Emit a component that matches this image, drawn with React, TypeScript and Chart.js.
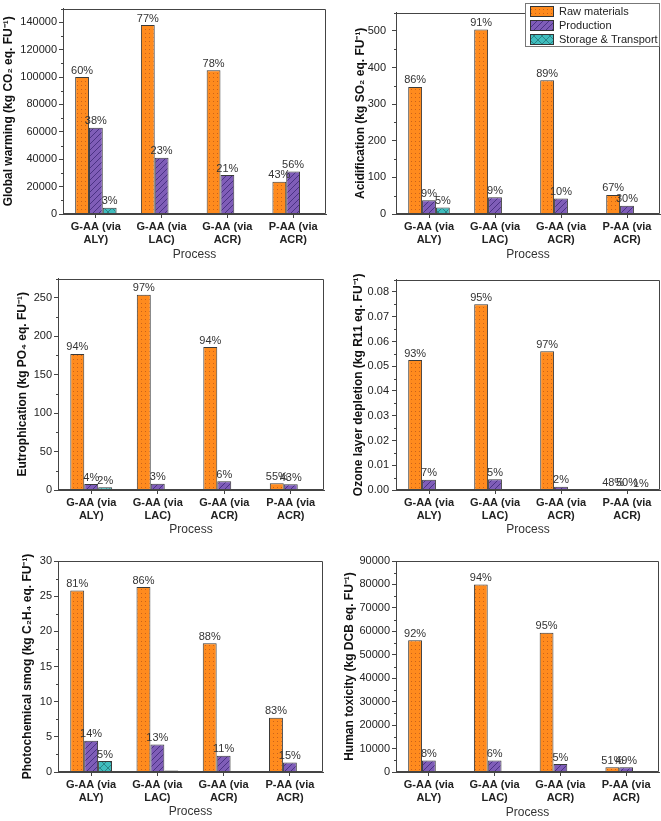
import React, { useEffect, useRef } from "react";
import { Chart, registerables } from "chart.js";
Chart.register(...registerables);

const FONT = "'Liberation Sans', Arial, Helvetica, sans-serif";

// ---------- data ----------
const categories = [["G-AA (via", "ALY)"], ["G-AA (via", "LAC)"], ["G-AA (via", "ACR)"], ["P-AA (via", "ACR)"]];
const seriesNames = ["Raw materials", "Production", "Storage & Transport"];

const gwRaw = [100000, 138000, 105000, 23500];
const gwProd = [63000, 41000, 28500, 31000];
const gwST = [4600, 600, 300, 300];
const gwRawPct = ["60%", "77%", "78%", "43%"];
const gwProdPct = ["38%", "23%", "21%", "56%"];
const gwSTPct = ["3%", "", "", ""];

const acRaw = [347, 504, 365, 52];
const acProd = [37.5, 46, 42, 22.5];
const acST = [18, 2.5, 2, 1.5];
const acRawPct = ["86%", "91%", "89%", "67%"];
const acProdPct = ["9%", "9%", "10%", "30%"];
const acSTPct = ["5%", "", "", ""];

const euRaw = [177, 254, 186, 8.7];
const euProd = [7.8, 8, 11.5, 7.4];
const euST = [3.5, 0.6, 0.4, 0.3];
const euRawPct = ["94%", "97%", "94%", "55%"];
const euProdPct = ["4%", "3%", "6%", "43%"];
const euSTPct = ["2%", "", "", ""];

const ozRaw = [0.0525, 0.075, 0.0561, 0.0004];
const ozProd = [0.0041, 0.0043, 0.0013, 0.0004];
const ozST = [0.00003, 0.00002, 0.00002, 0.00001];
const ozRawPct = ["93%", "95%", "97%", "48%"];
const ozProdPct = ["7%", "5%", "2%", "50%"];
const ozSTPct = ["", "", "", "1%"];

const smRaw = [25.8, 26.3, 18.3, 7.7];
const smProd = [4.45, 3.9, 2.3, 1.35];
const smST = [1.55, 0.2, 0.15, 0.12];
const smRawPct = ["81%", "86%", "88%", "83%"];
const smProdPct = ["14%", "13%", "11%", "15%"];
const smSTPct = ["5%", "", "", ""];

const htRaw = [56200, 80000, 59400, 2000];
const htProd = [4900, 4900, 3400, 2000];
const htST = [300, 80, 60, 40];
const htRawPct = ["92%", "94%", "95%", "51%"];
const htProdPct = ["8%", "6%", "5%", "49%"];
const htSTPct = ["", "", "", ""];

// ---------- patterns ----------
function makePattern(kind: number): CanvasPattern | string {
  const c = document.createElement("canvas");
  const ctx = c.getContext("2d")!;
  if (kind === 0) {
    c.width = 4; c.height = 4;
    ctx.fillStyle = "#FF8B1E"; ctx.fillRect(0, 0, 4, 4);
    ctx.fillStyle = "#C9621A"; ctx.fillRect(1, 1, 1, 1);
  } else if (kind === 1) {
    c.width = 6; c.height = 6;
    ctx.fillStyle = "#7F5DB8"; ctx.fillRect(0, 0, 6, 6);
    ctx.strokeStyle = "#4A3284"; ctx.lineWidth = 1;
    ctx.beginPath();
    ctx.moveTo(-1, 7); ctx.lineTo(7, -1);
    ctx.moveTo(-1, 1); ctx.lineTo(1, -1);
    ctx.moveTo(5, 7); ctx.lineTo(7, 5);
    ctx.stroke();
  } else {
    c.width = 8; c.height = 8;
    ctx.fillStyle = "#40BDBE"; ctx.fillRect(0, 0, 8, 8);
    ctx.strokeStyle = "#2A8587"; ctx.lineWidth = 1;
    ctx.beginPath();
    ctx.moveTo(-1, 9); ctx.lineTo(9, -1);
    ctx.moveTo(-1, -1); ctx.lineTo(9, 9);
    ctx.stroke();
  }
  return ctx.createPattern(c, "repeat") || "#888";
}

type PanelCfg = {
  x: number; y: number; w: number; h: number;
  yW: number; xH: number; padTop: number; padRight: number; procPad: number;
  tickPad: number; titlePad: number;
  title: string; max: number; step: number; dec: number;
  series: number[][]; pcts: string[][]; legend?: boolean;
};

const panels: PanelCfg[] = [
  { x: 0, y: 0, w: 330, h: 270, yW: 63, xH: 56, padTop: 3, padRight: 4, procPad: 8, tickPad: 2, titlePad: 1,
    title: "Global warming (kg CO₂ eq. FU⁻¹)", max: 150000, step: 20000, dec: 0,
    series: [gwRaw, gwProd, gwST], pcts: [gwRawPct, gwProdPct, gwSTPct] },
  { x: 330, y: 0, w: 331, h: 270, yW: 66, xH: 56, padTop: 3, padRight: 1, procPad: 8, tickPad: 6, titlePad: 23,
    title: "Acidification (kg SO₂ eq. FU⁻¹)", max: 550, step: 100, dec: 0,
    series: [acRaw, acProd, acST], pcts: [acRawPct, acProdPct, acSTPct], legend: true },
  { x: 0, y: 270, w: 330, h: 270, yW: 58, xH: 50, padTop: 8, padRight: 6, procPad: 3, tickPad: 2, titlePad: 15,
    title: "Eutrophication (kg PO₄ eq. FU⁻¹)", max: 275, step: 50, dec: 0,
    series: [euRaw, euProd, euST], pcts: [euRawPct, euProdPct, euSTPct] },
  { x: 330, y: 270, w: 331, h: 270, yW: 66, xH: 50, padTop: 8, padRight: 1, procPad: 3, tickPad: 3, titlePad: 21,
    title: "Ozone layer depletion (kg R11 eq. FU⁻¹)", max: 0.085, step: 0.01, dec: 2,
    series: [ozRaw, ozProd, ozST], pcts: [ozRawPct, ozProdPct, ozSTPct] },
  { x: 0, y: 540, w: 330, h: 281, yW: 58, xH: 49, padTop: 21, padRight: 7, procPad: 2, tickPad: 2, titlePad: 20,
    title: "Photochemical smog (kg C₂H₄ eq. FU⁻¹)", max: 30, step: 5, dec: 0,
    series: [smRaw, smProd, smST], pcts: [smRawPct, smProdPct, smSTPct] },
  { x: 330, y: 540, w: 331, h: 281, yW: 66, xH: 49, padTop: 21, padRight: 2, procPad: 1, tickPad: 2, titlePad: 12,
    title: "Human toxicity (kg DCB eq. FU⁻¹)", max: 90000, step: 10000, dec: 0,
    series: [htRaw, htProd, htST], pcts: [htRawPct, htProdPct, htSTPct] },
];

function Panel({ cfg }: { cfg: PanelCfg }) {
  const ref = useRef<HTMLCanvasElement>(null);
  useEffect(() => {
    const canvas = ref.current!;
    const pats = [makePattern(0), makePattern(1), makePattern(2)];
    const decor = {
      id: "decor",
      afterDatasetsDraw(chart: any) {
        const ctx = chart.ctx;
        ctx.save();
        ctx.font = `11px ${FONT}`;
        ctx.fillStyle = "#333";
        ctx.textAlign = "center";
        ctx.textBaseline = "bottom";
        chart.data.datasets.forEach((_ds: any, i: number) => {
          const meta = chart.getDatasetMeta(i);
          meta.data.forEach((el: any, j: number) => {
            const t = cfg.pcts[i][j];
            if (t) ctx.fillText(t, el.x, el.y - 1);
          });
        });
        ctx.restore();
      },
      afterDraw(chart: any) {
        const ctx = chart.ctx;
        const a = chart.chartArea;
        ctx.save();
        ctx.strokeStyle = "#444";
        ctx.lineWidth = 1;
        const l = Math.round(a.left) + 0.5, r = Math.round(a.right) - 0.5;
        const t = Math.round(a.top) + 0.5, b = Math.round(a.bottom) - 0.5;
        ctx.beginPath();
        ctx.moveTo(l, b); ctx.lineTo(l, t); ctx.lineTo(r, t); ctx.lineTo(r, b); ctx.lineTo(l, b);
        ctx.stroke();
        // minor ticks
        const ys = chart.scales.y;
        ctx.beginPath();
        for (let k = 0; ; k++) {
          const v = cfg.step * (k + 0.5);
          if (v > cfg.max + 1e-12) break;
          const py = Math.round(ys.getPixelForValue(v)) + 0.5;
          ctx.moveTo(l, py); ctx.lineTo(l - 2.5, py);
        }
        ctx.stroke();
        if (cfg.legend) {
          const bx = 195.5, by = 3.5, bw = r - bx, bh = 43;
          ctx.fillStyle = "#fff";
          ctx.fillRect(bx, by, bw, bh);
          ctx.strokeStyle = "#777";
          ctx.strokeRect(bx, by, bw, bh);
          ctx.font = `11px ${FONT}`;
          ctx.textAlign = "left";
          ctx.textBaseline = "middle";
          seriesNames.forEach((n, i) => {
            const cy = 11.5 + i * 13.8;
            ctx.fillStyle = pats[i] as any;
            ctx.fillRect(200, Math.round(cy - 5.5), 24, 11);
            ctx.strokeStyle = "#333";
            ctx.strokeRect(200.5, Math.round(cy - 5.5) + 0.5, 23, 10);
            ctx.fillStyle = "#222";
            ctx.fillText(n, 229, cy + 0.5);
          });
        }
        ctx.restore();
      },
    };
    const chart = new Chart(canvas, {
      type: "bar",
      data: {
        labels: categories as any,
        datasets: cfg.series.map((s, i) => ({
          label: seriesNames[i],
          data: s,
          backgroundColor: pats[i] as any,
          borderColor: "#3a3a3a",
          borderWidth: 1,
          categoryPercentage: 0.63,
          barPercentage: 1,
        })),
      },
      options: {
        animation: false,
        responsive: false,
        devicePixelRatio: 1,
        layout: { padding: { left: 0, top: cfg.padTop, right: cfg.padRight, bottom: 0 } },
        plugins: { legend: { display: false }, tooltip: { enabled: false } },
        scales: {
          x: {
            grid: { display: true, drawOnChartArea: false, drawTicks: true, tickLength: 4, color: "#444", offset: false },
            border: { display: true, color: "#444" },
            ticks: { font: { family: FONT, size: 11, weight: "bold" }, color: "#222", padding: 2, maxRotation: 0, autoSkip: false },
            title: { display: true, text: "Process", font: { family: FONT, size: 12 }, color: "#333", padding: { top: 0, bottom: cfg.procPad } },
            afterFit: (s: any) => { s.height = cfg.xH; },
          },
          y: {
            min: 0,
            max: cfg.max,
            grid: { display: true, drawOnChartArea: false, drawTicks: true, tickLength: 4, color: "#444" },
            border: { display: true, color: "#444" },
            ticks: {
              font: { family: FONT, size: 11 },
              color: "#222",
              padding: cfg.tickPad,
              autoSkip: false,
              callback: (v: any) => Number(v).toFixed(cfg.dec),
            },
            afterBuildTicks: (s: any) => {
              const out: any[] = [];
              for (let k = 0; cfg.step * k <= cfg.max + 1e-12; k++) out.push({ value: +(cfg.step * k).toFixed(6) });
              s.ticks = out;
            },
            title: { display: true, text: cfg.title, font: { family: FONT, size: 12, weight: "bold" }, color: "#111", padding: { top: cfg.titlePad, bottom: 0 } },
            afterFit: (s: any) => { s.width = cfg.yW; },
          },
        },
      } as any,
      plugins: [decor],
    });
    return () => chart.destroy();
  }, [cfg]);
  return (
    <canvas
      ref={ref}
      width={cfg.w}
      height={cfg.h}
      style={{ position: "absolute", left: cfg.x, top: cfg.y, width: cfg.w, height: cfg.h }}
    />
  );
}

export default function App() {
  return (
    <div style={{ position: "absolute", left: 0, top: 0, width: 661, height: 821, background: "#fff" }}>
      {panels.map((p, i) => (
        <Panel key={i} cfg={p} />
      ))}
    </div>
  );
}
